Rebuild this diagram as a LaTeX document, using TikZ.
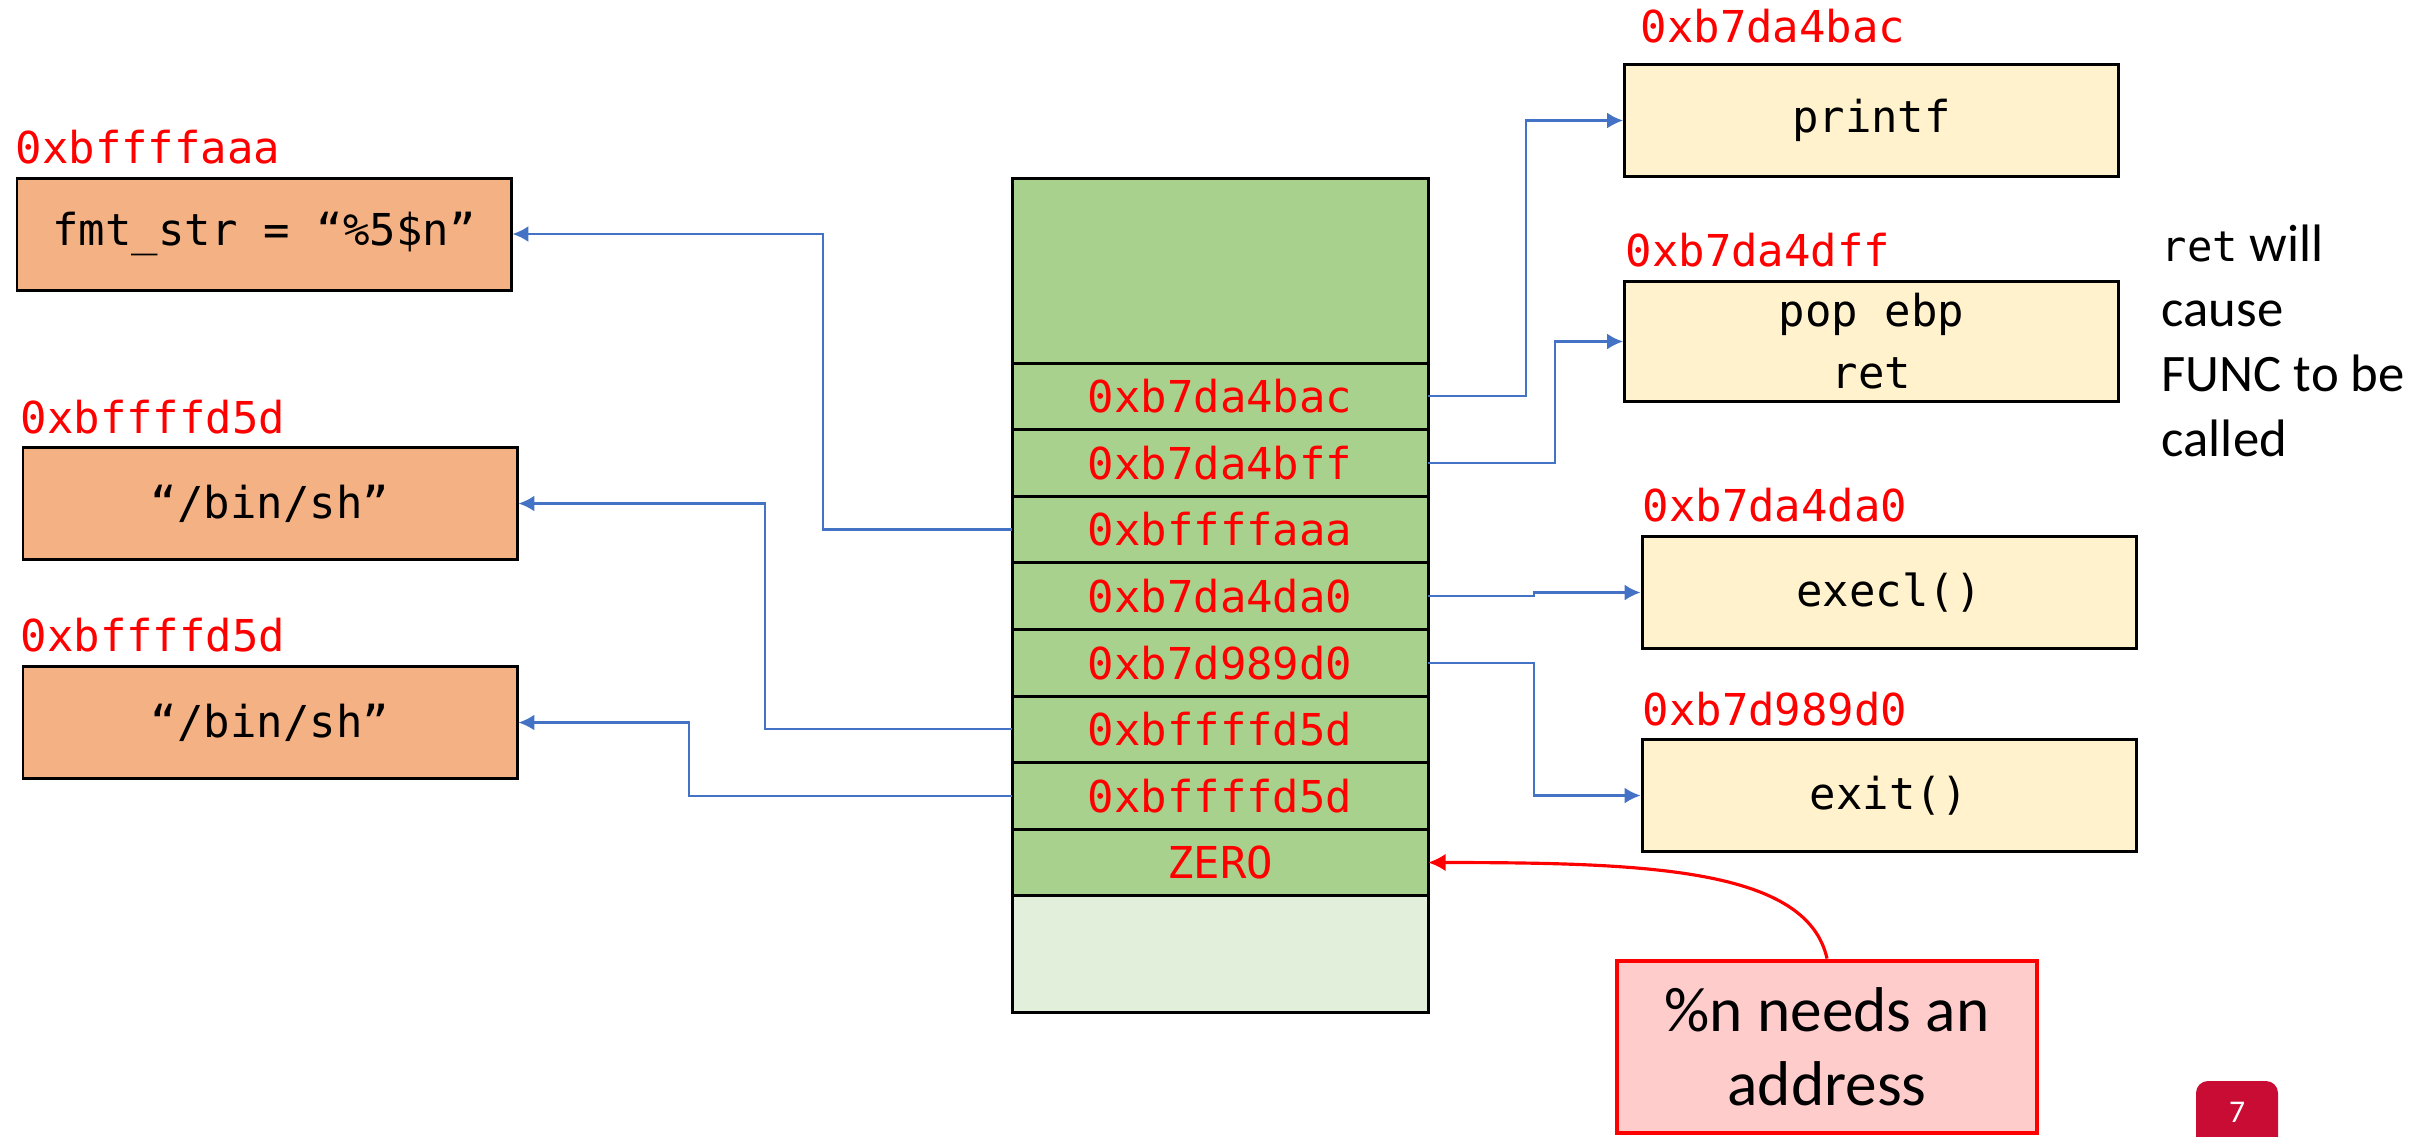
\documentclass[tikz,border=0pt]{standalone}
\usepackage{fontspec}
\setmainfont{Carlito}
\newfontfamily\codefont{DejaVu Sans Mono}
\usetikzlibrary{arrows.meta}
\usetikzlibrary{positioning}

\definecolor{stackgreen}{HTML}{A9D18E}
\definecolor{stacklight}{HTML}{E2EFDA}
\definecolor{strorange}{HTML}{F4B183}
\definecolor{funcyellow}{HTML}{FFF2CC}
\definecolor{linkblue}{HTML}{4472C4}
\definecolor{notepink}{HTML}{FFCCCC}
\definecolor{badgered}{HTML}{C80C34}

\tikzset{
    code/.style={font=\codefont\fontsize{12.5}{17.6}\selectfont},
    addr/.style={code, text=red, inner sep=0pt},
    cell/.style={code, text=red, draw, line width=0.85pt, fill=stackgreen,
        minimum width=4.16cm, minimum height=0.666cm, inner sep=0pt, outer sep=0pt},
    strbox/.style={code, draw, line width=0.85pt, fill=strorange,
        minimum width=4.94cm, minimum height=1.12cm},
    funcbox/.style={code, draw, line width=0.85pt, fill=funcyellow,
        minimum width=4.94cm, minimum height=1.12cm, align=center},
    note/.style={draw=red, line width=1.4pt, fill=notepink, align=center,
        minimum width=4.2cm, minimum height=1.72cm, font=\fontsize{18}{21}\selectfont},
    link/.style={linkblue, line width=0.65pt, -{Latex[length=4.5pt,width=4.5pt]}},
    redlink/.style={red, line width=0.9pt, -{Latex[length=5pt,width=5pt]}},
}

\begin{document}
\begin{tikzpicture}

    \useasboundingbox (0, 0) rectangle (24.22, -11.36);

    % The stack
    \node[cell, minimum height=1.85cm] (top) at (12.2, -2.705) {};
    \foreach \val [count=\i] in {0xb7da4bac,0xb7da4bff,0xbffffaaa,0xb7da4da0,
                                 0xb7d989d0,0xbffffd5d,0xbffffd5d,ZERO}{
        \node[cell] (row\i) at (12.2, {-3.963 - 0.666*(\i - 1)}) {\val};
    }
    \node[cell, fill=stacklight, minimum height=1.162cm] (bottom) at (12.2, -9.539) {};

    % Strings on the left
    \node[strbox] (fmt) at (2.64, -2.34) {fmt\_str = “\%5\$n”};
    \node[strbox] (binsh1) at (2.70, -5.035) {“/bin/sh”};
    \node[strbox] (binsh2) at (2.70, -7.225) {“/bin/sh”};

    \node[addr, anchor=west] (fmtaddr) at (0.15, -1.47) {0xbffffaaa};
    \node[addr, anchor=west] (binshaddr1) at (0.20, -4.17) {0xbffffd5d};
    \node[addr, anchor=west] (binshaddr2) at (0.20, -6.35) {0xbffffd5d};

    % Code on the right
    \node[funcbox] (printf) at (18.715, -1.205) {printf};
    \node[funcbox] (popret) at (18.715, -3.415) {pop ebp\\ret};
    \node[funcbox] (execl) at (18.89, -5.925) {execl()};
    \node[funcbox] (exit) at (18.89, -7.955) {exit()};

    \node[addr, anchor=west] (printfaddr) at (16.40, -0.26) {0xb7da4bac};
    \node[addr, anchor=west] (popretaddr) at (16.25, -2.50) {0xb7da4dff};
    \node[addr, anchor=west] (execladdr) at (16.42, -5.05) {0xb7da4da0};
    \node[addr, anchor=west] (exitaddr) at (16.42, -7.09) {0xb7d989d0};

    \node[anchor=west, align=left, inner sep=0pt, font=\fontsize{15}{18.5}\selectfont] (retnote)
        at (21.61, -3.405) {{\codefont\fontsize{12}{18.5}\selectfont ret} will\\cause\\FUNC to be\\called};

    % Stack to the code
    \draw[link] (row1.east) -- ++(0.98, 0) |- (printf.west);
    \draw[link] (row2.east) -- ++(1.27, 0) |- (popret.west);
    \draw[link] (row4.east) -- ++(1.06, 0) |- (execl.west);
    \draw[link] (row5.east) -- ++(1.06, 0) |- (exit.west);

    % Stack to the strings
    \draw[link] (row3.west) -- ++(-1.89, 0) |- (fmt.east);
    \draw[link] (row6.west) -- ++(-2.47, 0) |- (binsh1.east);
    \draw[link] (row7.west) -- ++(-3.23, 0) |- (binsh2.east);

    % The note
    \node[note] (note) at (18.27, -10.47) {\%n needs an\\address};
    \draw[redlink] (note.north) .. controls +(-0.2, 0.9) and +(2.2, 0) .. (row8.east);

    % Page number
    \fill[badgered, rounded corners=0.12cm] (21.96, -10.81) rectangle (22.78, -11.7);
    \node[text=white, font=\fontsize{9}{11}\selectfont] (page) at (22.37, -11.12) {7};

\end{tikzpicture}
\end{document}
